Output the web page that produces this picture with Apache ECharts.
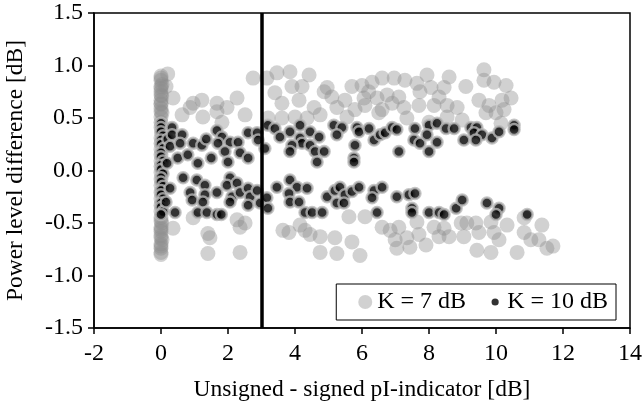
<!DOCTYPE html>
<html>
<head>
<meta charset="utf-8">
<script src="https://cdn.jsdelivr.net/npm/echarts@6/dist/echarts.min.js"></script>
<style>html,body{margin:0;padding:0;background:#fff}#c{width:643px;height:407px}</style>
</head>
<body>
<div id="c"></div>
<script>
const xTicks = [-2, 0, 2, 4, 6, 8, 10, 12, 14];
const yTicks = [-1.5, -1.0, -0.5, 0.0, 0.5, 1.0, 1.5];
const seriesNames = ['K = 7 dB', 'K = 10 dB'];
const thresholdX = 3;

// K = 7 dB (grey)
const k7Points = [
  [0,0.90],[0,0.86],[0.03,0.82],[0,0.78],[0,0.75],[0.02,0.71],[0,0.67],[0,0.63],[0,0.59],[0.03,0.55],
  [0,0.51],[0,0.46],[0,0.41],[0.02,0.36],[0,0.31],[0,0.26],[0,0.20],[0,0.15],[0,0.09],[0,0.04],
  [0,-0.02],[0,-0.08],[0,-0.14],[0,-0.21],[0,-0.27],[0,-0.33],[0,-0.39],[0,-0.45],[0.02,-0.50],[0,-0.54],
  [0,-0.58],[0,-0.62],[0.03,-0.66],[0,-0.70],[0,-0.74],[0,-0.78],
  [0,0.88],[0,0.80],[0,0.72],[0,0.64],[0,0.56],[0,-0.48],[0,-0.56],[0,-0.64],[0,-0.72],[0,-0.80],
  [0.2,0.92],[0.15,0.80],[0.36,0.69],[0.96,0.64],[1.22,0.67],[0.87,0.60],[0.63,0.53],[1.25,0.51],[1.67,0.64],
  [1.97,0.60],[2.27,0.69],[1.67,0.56],[1.82,0.46],[2.51,0.53],[2.75,0.88],[3.16,0.88],[3.46,0.93],[3.40,0.74],
  [3.61,0.64],[3.61,0.50],[3.2,0.50],[3.85,0.94],[4.42,0.91],[3.91,0.80],[4.21,0.80],[4.96,0.79],[4.87,0.75],
  [4.12,0.67],[4.57,0.60],[4.75,0.53],[4.0,0.51],[4.36,0.50],[5.70,0.80],[6.0,0.81],[6.30,0.84],[6.60,0.88],
  [6.96,0.88],[7.28,0.86],[7.64,0.83],[5.49,0.67],[6.06,0.69],[6.09,0.62],[6.45,0.69],[6.75,0.72],[7.1,0.70],
  [5.25,0.60],[5.79,0.58],[6.6,0.58],[7.25,0.60],[5.55,0.51],[6.5,0.55],[7.34,0.50],[7.7,0.62],[7.73,0.75],
  [9.64,0.96],[9.64,0.86],[9.94,0.84],[10.30,0.81],[9.1,0.80],[8.6,0.89],[7.94,0.91],[8.06,0.79],[8.45,0.79],
  [9.49,0.67],[9.79,0.62],[10.18,0.67],[10.45,0.69],[10.24,0.58],[10.0,0.55],[9.70,0.55],[8.99,0.48],[8.54,0.51],
  [8.15,0.62],[8.54,0.62],[8.0,0.46],[10.15,0.45],[8.84,0.60],[8.3,0.70],[6.2,0.75],[6.9,0.64],[5.1,0.70],
  [0.36,-0.55],[0.96,-0.45],[1.40,-0.60],[1.46,-0.64],[1.40,-0.79],[2.36,-0.78],[2.27,-0.47],[2.51,-0.50],
  [2.36,-0.54],[3.64,-0.57],[3.82,-0.59],[4.15,-0.52],[4.30,-0.57],[4.45,-0.61],[4.75,-0.63],[5.19,-0.64],
  [5.70,-0.68],[4.75,-0.78],[5.25,-0.79],[5.94,-0.81],[5.61,-0.44],[6.09,-0.44],[6.60,-0.54],[6.84,-0.57],
  [7.10,-0.54],[6.99,-0.66],[7.04,-0.74],[7.34,-0.64],[7.43,-0.73],[7.64,-0.49],[7.70,-0.61],
  [7.91,-0.71],[8.15,-0.54],[8.45,-0.55],[8.30,-0.63],[8.60,-0.63],[8.96,-0.50],[9.13,-0.50],[9.40,-0.50],
  [9.04,-0.63],[9.49,-0.59],[9.43,-0.76],[9.85,-0.78],[9.85,-0.49],[10.33,-0.52],[9.94,-0.59],[10.09,-0.66],
  [10.63,-0.78],[10.84,-0.45],[10.84,-0.59],[11.04,-0.66],[11.37,-0.52],[11.28,-0.66],[11.52,-0.74],[11.7,-0.72]
];

// K = 10 dB (black)
const k10Points = [
  [0,0.45],[0,0.41],[0,0.37],[0.06,0.33],[0,0.29],[0,0.25],[0.06,0.21],[0,0.17],[0,0.13],[0.06,0.09],
  [0,0.05],[0,0.01],[0.06,-0.03],[0,-0.07],[0,-0.11],[0.06,-0.15],[0,-0.19],[0,-0.23],[0.06,-0.27],[0,-0.31],
  [0,-0.35],[0.06,-0.39],[0,-0.42],[0.2,0.30],[0.15,-0.30],
  [0.33,0.41],[0.33,0.34],[0.63,0.34],[0.27,0.23],[0.57,0.26],[0.96,0.26],[1.22,0.24],[1.67,0.38],[1.82,0.32],
  [1.70,0.26],[2.06,0.27],[2.30,0.27],[2.60,0.36],[2.87,0.36],[2.90,0.29],[3.19,0.43],[3.40,0.40],[3.55,0.32],
  [3.10,0.21],[1.91,0.18],[2.36,0.17],[0.18,0.07],[1.1,0.07],[2.0,0.08],[0.5,0.12],[0.8,0.15],[1.5,0.12],
  [2.6,0.12],[1.35,0.30],
  [4.15,0.43],[4.45,0.37],[4.72,0.32],[3.85,0.37],[4.15,0.31],[4.21,0.26],[3.91,0.24],[4.45,0.24],[3.85,0.18],
  [4.60,0.18],[4.87,0.18],[5.16,0.43],[5.40,0.41],[5.25,0.34],[5.85,0.41],[5.91,0.37],[5.79,0.24],[6.21,0.40],
  [6.36,0.29],[6.54,0.34],[6.69,0.36],[6.90,0.41],[7.04,0.39],[7.10,0.18],[7.58,0.40],[7.55,0.29],[7.73,0.26],
  [5.76,0.12],[4.66,0.08],[5.76,0.08],
  [8.0,0.43],[8.24,0.45],[8.51,0.40],[8.75,0.40],[7.94,0.34],[8.24,0.27],[8.0,0.18],[9.25,0.41],[9.43,0.41],
  [9.34,0.36],[9.58,0.34],[9.40,0.29],[9.04,0.29],[9.88,0.31],[10.09,0.37],[10.54,0.43],[10.54,0.39],
  [0.66,-0.07],[1.07,-0.09],[1.31,-0.14],[0.87,-0.21],[0.93,-0.28],[1.31,-0.23],[1.67,-0.21],[1.25,-0.30],
  [1.10,-0.40],[1.37,-0.40],[1.67,-0.42],[1.80,-0.42],[2.06,-0.07],[1.97,-0.14],[2.27,-0.12],[2.12,-0.25],
  [2.06,-0.30],[2.36,-0.21],[2.60,-0.17],[2.66,-0.25],[2.60,-0.33],[2.87,-0.19],[2.96,-0.31],[3.16,-0.26],
  [3.19,-0.36],[3.46,-0.16],[0.42,-0.40],[0.27,-0.17],
  [3.85,-0.09],[4.06,-0.16],[4.36,-0.17],[3.82,-0.22],[3.85,-0.30],[4.12,-0.30],[4.30,-0.40],[4.51,-0.40],
  [4.81,-0.40],[4.96,-0.25],[5.19,-0.19],[5.34,-0.16],[5.49,-0.23],[5.25,-0.31],[5.46,-0.31],[5.70,-0.20],
  [5.91,-0.16],[6.36,-0.19],[6.60,-0.16],[6.30,-0.26],[6.45,-0.40],[7.04,-0.25],[7.40,-0.23],[7.58,-0.22],
  [7.49,-0.36],[7.49,-0.40],
  [8.0,-0.40],[8.30,-0.40],[8.45,-0.42],[8.81,-0.36],[8.99,-0.28],[9.73,-0.31],[10.09,-0.36],[10.0,-0.42],
  [10.93,-0.42]
];

const FONT = 'Liberation Serif';
const chart = echarts.init(document.getElementById('c'), null, {renderer: 'canvas'});
const blackIcon = 'image://data:image/svg+xml;utf8,' + encodeURIComponent('<svg xmlns="http://www.w3.org/2000/svg" width="14" height="14"><circle cx="7" cy="7" r="3.6" fill="black"/></svg>');

chart.setOption({
  animation: false,
  backgroundColor: '#fff',
  textStyle: {fontFamily: FONT, color: '#000'},
  grid: {left: 94, right: 13, top: 13, bottom: 79, show: true, borderColor: '#000', borderWidth: 1.5,
         backgroundColor: 'transparent', containLabel: false, outerBoundsMode: 'none'},
  xAxis: {
    type: 'value', min: xTicks[0], max: xTicks[xTicks.length - 1], interval: 2,
    name: 'Unsigned - signed pI-indicator [dB]', nameLocation: 'middle', nameGap: 50,
    nameTextStyle: {fontFamily: FONT, fontSize: 23.5, color: '#000'},
    axisLine: {show: true, onZero: false, lineStyle: {color: '#000', width: 1.5}},
    axisTick: {show: true, inside: false, length: 6, lineStyle: {color: '#000', width: 1.5}},
    axisLabel: {fontFamily: FONT, fontSize: 24, color: '#000', margin: 14},
    splitLine: {show: false}
  },
  yAxis: {
    type: 'value', min: yTicks[0], max: yTicks[yTicks.length - 1], interval: 0.5,
    name: 'Power level difference [dB]', nameLocation: 'middle', nameGap: 66, nameRotate: 90,
    nameTextStyle: {fontFamily: FONT, fontSize: 23.5, color: '#000'},
    axisLine: {show: true, onZero: false, lineStyle: {color: '#000', width: 1.5}},
    axisTick: {show: true, inside: false, length: 6, lineStyle: {color: '#000', width: 1.5}},
    axisLabel: {fontFamily: FONT, fontSize: 24, color: '#000', margin: 11, formatter: v => v.toFixed(1)},
    splitLine: {show: false}
  },
  legend: {
    right: 27, bottom: 87, orient: 'horizontal',
    backgroundColor: '#fff', borderColor: '#000', borderWidth: 1, borderRadius: 0,
    padding: [6, 8, 6, 22], itemGap: 22, itemWidth: 14, itemHeight: 14,
    textStyle: {fontFamily: FONT, fontSize: 24, color: '#000'},
    data: [
      {name: seriesNames[0], icon: 'circle'},
      {name: seriesNames[1], icon: blackIcon}
    ]
  },
  series: [
    {
      name: seriesNames[0], type: 'scatter', data: k7Points, symbol: 'circle', symbolSize: 15,
      itemStyle: {color: 'rgba(140,140,140,0.5)', borderWidth: 0},
      z: 2,
      markLine: {
        silent: true, symbol: 'none', label: {show: false},
        lineStyle: {color: '#000', width: 3.5, type: 'solid'},
        data: [{xAxis: thresholdX}],
        z: 5
      }
    },
    {
      name: seriesNames[1], type: 'scatter', data: k10Points, symbol: 'circle', symbolSize: 11,
      itemStyle: {color: '#000', borderColor: '#b8b8b8', borderWidth: 2.5},
      z: 3
    }
  ]
});
</script>
</body>
</html>
